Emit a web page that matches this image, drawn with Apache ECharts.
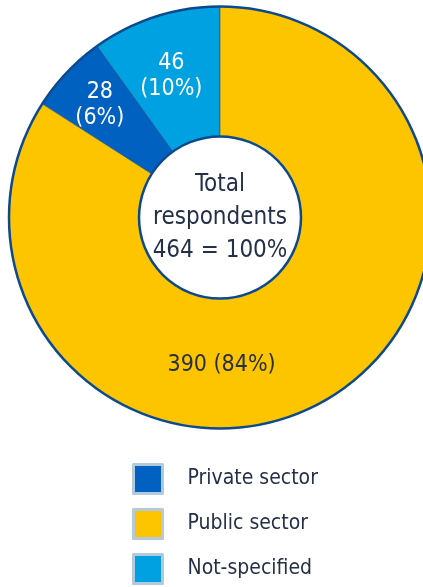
<!DOCTYPE html>
<html lang="en">
<head>
    <meta charset="UTF-8">
    <title>Respondents</title>
    <script src="https://cdn.jsdelivr.net/npm/echarts@6/dist/echarts.min.js"></script>
    <style>
        html, body { margin: 0; padding: 0; background: #fff; }
        #pie { width: 423px; height: 587px; }
    </style>
</head>
<body>
    <div id="pie"></div>
    <script>
        // slices, counter-clockwise from 12 o'clock
        var categories = ['Not-specified', 'Private sector', 'Public sector'];
        var values = [46, 28, 390];
        var colors = ['#00a1e0', '#0061c1', '#fcc500'];
        var legendOrder = ['Private sector', 'Public sector', 'Not-specified'];
        var total = 464;

        var font = '"Liberation Sans Narrow", "DejaVu Sans Condensed", sans-serif';
        var labelOffsets = [[-3, 0], [-12, -10], [-70, 17]];

        var pie = echarts.init(document.getElementById('pie'));

        var data = [];
        for (var i = 0; i < categories.length; i++) {
            var pct = Math.round(values[i] / total * 100);
            var big = i == 2;
            data.push({
                name: categories[i],
                value: values[i],
                itemStyle: { color: colors[i] },
                label: {
                    formatter: big ? values[i] + ' (' + pct + '%)' : values[i] + '\n(' + pct + '%)',
                    color: big ? '#2b2f3a' : '#fff',
                    offset: labelOffsets[i]
                }
            });
        }

        var option = {
            animation: false,
            legend: {
                orient: 'vertical',
                left: 132,
                top: 463,
                height: 140,
                padding: 0,
                icon: 'rect',
                itemWidth: 29,
                itemHeight: 29,
                itemGap: 13,
                data: legendOrder,
                itemStyle: { borderColor: '#b3c9dd', borderWidth: 3 },
                textStyle: { fontFamily: font, fontSize: 21, color: '#243047', padding: [0, 0, 0, 20] }
            },
            series: [{
                type: 'pie',
                center: [220, 217.5],
                radius: [81, 211],
                startAngle: 90,
                clockwise: false,
                avoidLabelOverlap: false,
                itemStyle: { borderColor: '#1b4f8e', borderWidth: 0.6 },
                label: {
                    position: 'inside',
                    fontFamily: font,
                    fontSize: 23,
                    lineHeight: 26
                },
                labelLine: { show: false },
                emphasis: { disabled: true },
                data: data
            }, {
                // outline ring + centre text
                type: 'pie',
                center: [220, 217.5],
                radius: [81, 211],
                silent: true,
                itemStyle: { color: 'none', borderColor: '#0d4a8d', borderWidth: 2.5 },
                label: {
                    position: 'center',
                    formatter: 'Total\nrespondents\n' + total + ' = 100%',
                    fontFamily: font,
                    fontSize: 24,
                    lineHeight: 33,
                    color: '#243047'
                },
                labelLine: { show: false },
                emphasis: { disabled: true },
                tooltip: { show: false },
                data: [{ name: 'total', value: total }]
            }]
        };
        pie.setOption(option);
    </script>
</body>
</html>
